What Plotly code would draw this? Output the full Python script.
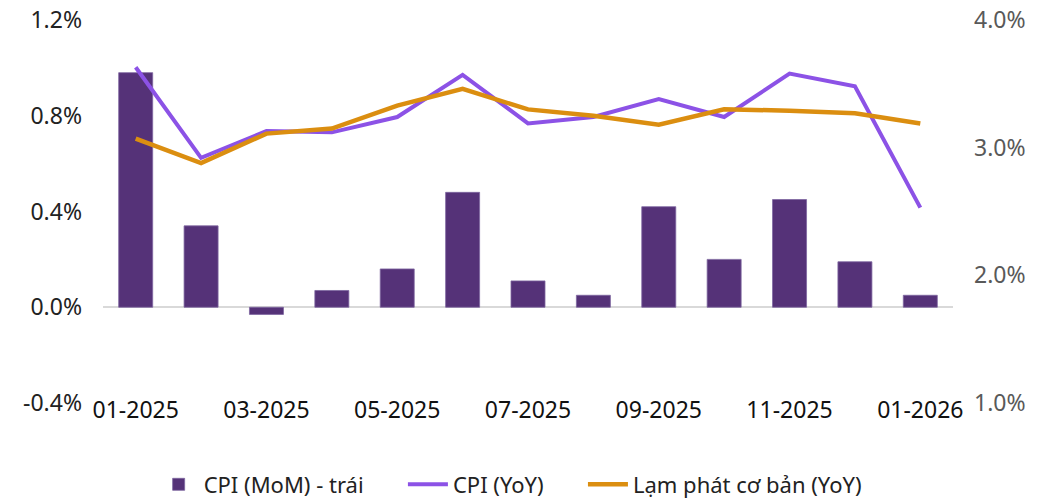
import plotly.graph_objects as go

months = ["01-2025", "02-2025", "03-2025", "04-2025", "05-2025", "06-2025", "07-2025",
          "08-2025", "09-2025", "10-2025", "11-2025", "12-2025", "01-2026"]
cpi_mom = [0.98, 0.34, -0.03, 0.07, 0.16, 0.48, 0.11, 0.05, 0.42, 0.20, 0.45, 0.19, 0.05]
cpi_yoy = [3.63, 2.92, 3.13, 3.12, 3.24, 3.57, 3.19, 3.24, 3.38, 3.24, 3.58, 3.48, 2.53]
core_yoy = [3.07, 2.88, 3.11, 3.15, 3.33, 3.46, 3.30, 3.25, 3.18, 3.30, 3.29, 3.27, 3.19]
x_ticks = ["01-2025", "03-2025", "05-2025", "07-2025", "09-2025", "11-2025", "01-2026"]
left_ticks = [-0.4, 0.0, 0.4, 0.8, 1.2]
right_ticks = [1.0, 2.0, 3.0, 4.0]
series_names = ["CPI (MoM) - trái", "CPI (YoY)", "Lạm phát cơ bản (YoY)"]

FONT = "Noto Sans"
PAD = "\u00a0" * 6  # spacing between legend entries

fig = go.Figure()
fig.add_trace(go.Bar(x=months, y=cpi_mom, name=series_names[0] + PAD,
                     marker=dict(color="#553278", line=dict(color="#7d66a0", width=0.8)),
                     yaxis="y"))
fig.add_trace(go.Scatter(x=months, y=cpi_yoy, name=series_names[1] + PAD, mode="lines",
                         line=dict(color="#8C52E6", width=4), yaxis="y2"))
fig.add_trace(go.Scatter(x=months, y=core_yoy, name=series_names[2], mode="lines",
                         line=dict(color="#DB8E10", width=4.5), yaxis="y2"))

fig.update_layout(
    width=1050, height=498,
    paper_bgcolor="white", plot_bgcolor="white",
    margin=dict(l=103, r=97, t=20, b=95, autoexpand=False),
    bargap=0.48,
    font=dict(family=FONT, size=20, color="#222222"),
    xaxis=dict(type="category", tickmode="array", tickvals=x_ticks, ticktext=x_ticks,
               showgrid=False, showline=False, ticks="", ticklabelstandoff=-9,
               automargin=False, tickfont=dict(size=23, color="#111111")),
    yaxis=dict(range=[-0.4, 1.2], tickmode="array", tickvals=left_ticks,
               ticktext=[f"{v:.1f}%" for v in left_ticks],
               showgrid=False, zeroline=True, zerolinecolor="#d9d9d9", zerolinewidth=2,
               ticks="", ticklabelstandoff=20, automargin=False,
               tickfont=dict(size=23, color="#222222")),
    yaxis2=dict(range=[1.0, 4.0], overlaying="y", side="right", tickmode="array",
                tickvals=right_ticks, ticktext=[f"{v:.1f}%" for v in right_ticks],
                showgrid=False, zeroline=False, ticks="", ticklabelstandoff=20,
                automargin=False, tickfont=dict(size=23, color="#595959")),
    legend=dict(orientation="h", x=0.479, xanchor="center", y=-0.158, yanchor="top",
                font=dict(size=22, color="#222222"), itemwidth=40, traceorder="normal"),
    showlegend=True,
)

fig.write_html("out.html", config={"displayModeBar": False},
               post_script="document.body.style.margin='0';document.body.style.overflow='hidden';")
